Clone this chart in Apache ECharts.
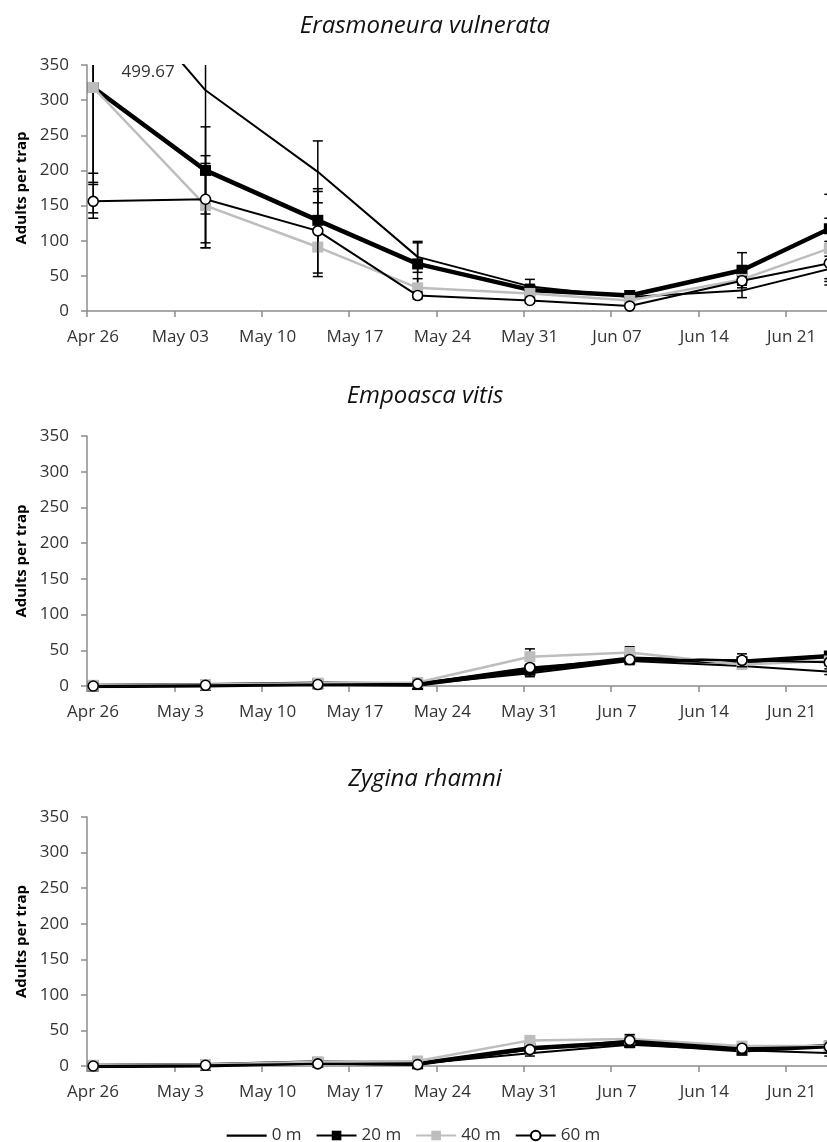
<!DOCTYPE html>
<html><head><meta charset="utf-8">
<script src="https://cdn.jsdelivr.net/npm/echarts@6/dist/echarts.min.js"></script>
<style>html,body{margin:0;padding:0;background:#fff;overflow:hidden}#c{width:827px;height:1142px}</style>
</head><body><div id="c"></div>
<script>
// Sampling dates: days after Apr 26 (points are placed at mid-day, as on the source date axis)
const sampleDays = [0, 9, 18, 26, 35, 43, 52, 59];
const tickLabelsTop = ['Apr 26','May 03','May 10','May 17','May 24','May 31','Jun 07','Jun 14','Jun 21'];
const tickLabelsLower = ['Apr 26','May 3','May 10','May 17','May 24','May 31','Jun 7','Jun 14','Jun 21'];
const depths = ['0 m', '20 m', '40 m', '60 m'];
const panelTitles = ['Erasmoneura vulnerata', 'Empoasca vitis', 'Zygina rhamni'];

// Erasmoneura vulnerata
const ev0 = [499.67, 314, 198, 77, 35, 20, 29, 60];
const ev20 = [318, 200, 129, 67, 30, 22, 58, 117];
const ev40 = [318, 150, 91, 33, 25, 15, 45, 89];
const ev60 = [156, 159, 114, 22, 15, 7, 43, 68];
const ev0Err = [360, 224, 44, 22, 10, 5, 10, 18];
const ev20Err = [122, 62, 41, 30, 8, 6, 25, 49];
const ev40Err = [135, 60, 42, 13, 5, 4, 8, 43];
const ev60Err = [24, 62, 60, 5, 4, 3, 6, 31];

// Empoasca vitis
const vi0 = [0, 1, 2, 2, 18, 35, 28, 20];
const vi20 = [0, 1, 3, 2, 22, 38, 34, 42];
const vi40 = [1, 2, 4, 5, 41, 47, 30, 35];
const vi60 = [0, 1, 2, 3, 26, 37, 36, 33];
const vi0Err = [0.5, 0.5, 1, 1, 5, 5, 3, 4];
const vi20Err = [0.5, 0.5, 1, 1, 6, 5, 4, 5];
const vi40Err = [1, 1, 1, 2, 11, 8, 4, 5];
const vi60Err = [0.5, 0.5, 1, 1, 4, 4, 9, 4];

// Zygina rhamni
const zr0 = [0, 1, 4, 3, 18, 30, 22, 18];
const zr20 = [0, 1, 5, 3, 25, 33, 22, 28];
const zr40 = [1, 2, 6, 7, 36, 38, 28, 28];
const zr60 = [0, 1, 3, 2, 23, 36, 25, 27];
const zr0Err = [0.5, 0.5, 1, 1, 4, 4, 3, 4];
const zr20Err = [0.5, 0.5, 1, 1, 5, 5, 4, 4];
const zr40Err = [1, 1, 1, 2, 4, 4, 4, 3];
const zr60Err = [0.5, 0.5, 1, 1, 4, 8, 4, 3];

const panels = [
  {vals: [ev0, ev20, ev40, ev60], errs: [ev0Err, ev20Err, ev40Err, ev60Err], labels: tickLabelsTop},
  {vals: [vi0, vi20, vi40, vi60], errs: [vi0Err, vi20Err, vi40Err, vi60Err], labels: tickLabelsLower},
  {vals: [zr0, zr20, zr40, zr60], errs: [zr0Err, zr20Err, zr40Err, zr60Err], labels: tickLabelsLower}
];

const FONT = 'Open Sans';
const TXT = '#333';
const AX = '#8c8c8c';
const grids = [
  {left: 87, top: 65, width: 786, height: 246, outerBoundsMode: 'none', containLabel: false},
  {left: 87, top: 436, width: 786, height: 250, outerBoundsMode: 'none', containLabel: false},
  {left: 87, top: 817, width: 786, height: 249, outerBoundsMode: 'none', containLabel: false}
];
const titleTops = [9, 379, 762];

const styles = [
  {color: '#000', width: 2, symbol: 'none', size: 0, fill: '#000'},
  {color: '#000', width: 4.5, symbol: 'rect', size: 11, fill: '#000'},
  {color: '#bdbdbd', width: 2.5, symbol: 'rect', size: 11, fill: '#bdbdbd'},
  {color: '#000', width: 2, symbol: 'circle', size: 10, fill: '#fff'}
];

const xAxes = [], yAxes = [], series = [], titles = [];
panels.forEach((p, pi) => {
  titles.push({text: panelTitles[pi], left: 420, textAlign: 'center', top: titleTops[pi],
    textStyle: {fontFamily: FONT, fontStyle: 'italic', fontWeight: 'normal', fontSize: 24, color: '#111'}});
  xAxes.push({type: 'value', gridIndex: pi, min: 0, max: 63, interval: 7,
    axisLine: {show: true, lineStyle: {color: AX, width: 1.5}},
    axisTick: {show: true, inside: false, length: 6, lineStyle: {color: AX, width: 1.5}},
    splitLine: {show: false},
    axisLabel: {show: true, color: TXT, fontFamily: FONT, fontSize: 17, margin: 18,
      padding: [0, 0, 0, 12], showMaxLabel: false, hideOverlap: false,
      formatter: v => (p.labels[Math.round(v / 7)] || '')}
  });
  yAxes.push({type: 'value', gridIndex: pi, min: 0, max: 350, interval: 50,
    name: 'Adults per trap', nameLocation: 'middle', nameGap: 57,
    nameTextStyle: {fontFamily: FONT, fontWeight: 'bold', fontSize: 15, color: '#000'},
    axisLine: {show: true, lineStyle: {color: AX, width: 1.5}},
    axisTick: {show: true, inside: false, length: 6, lineStyle: {color: AX, width: 1.5}},
    splitLine: {show: false},
    axisLabel: {color: TXT, fontFamily: FONT, fontSize: 17, margin: 18}
  });
  p.vals.forEach((vals, si) => {
    const st = styles[si];
    // error bars
    series.push({
      type: 'custom', xAxisIndex: pi, yAxisIndex: pi, clip: true, z: 2 + si * 2,
      silent: true,
      data: sampleDays.map((d, i) => [d + 0.5, vals[i], p.errs[si][i]]),
      renderItem: (params, api) => {
        const x = api.value(0), y = api.value(1), e = api.value(2);
        const top = api.coord([x, y + e]);
        const bot = api.coord([x, y - e]);
        const hw = 5;
        const ls = {stroke: '#000', lineWidth: 1.5};
        return {type: 'group', children: [
          {type: 'line', shape: {x1: top[0], y1: top[1], x2: bot[0], y2: bot[1]}, style: ls},
          {type: 'line', shape: {x1: top[0] - hw, y1: top[1], x2: top[0] + hw, y2: top[1]}, style: ls},
          {type: 'line', shape: {x1: bot[0] - hw, y1: bot[1], x2: bot[0] + hw, y2: bot[1]}, style: ls}
        ]};
      }
    });
    const s = {
      type: 'line', name: depths[si], xAxisIndex: pi, yAxisIndex: pi, clip: true, z: 3 + si * 2,
      data: sampleDays.map((d, i) => [d + 0.5, vals[i]]),
      symbol: st.symbol, symbolSize: st.size, showSymbol: st.symbol !== 'none',
      lineStyle: {color: st.color, width: st.width},
      itemStyle: {color: st.fill, borderColor: st.color, borderWidth: si === 3 ? 1.6 : 0},
      emphasis: {disabled: true}
    };
    if (pi === 0 && si === 0) {
      s.markPoint = {
        symbol: 'circle', symbolSize: 0, silent: true,
        data: [{coord: [4.9, 340], value: vals[0]}],
        label: {show: true, position: 'inside', formatter: '{c}', color: TXT, fontFamily: FONT, fontSize: 17}
      };
    }
    series.push(s);
  });
});

// legend: the 0 m entry is a plain line (no marker)
const legendData = depths.map((d, i) => i === 0
  ? {name: d, icon: 'path://M0,0h0.01v0.01h-0.01z M0,5h40v2.2h-40z M39.99,11.99h0.01v0.01h-0.01z'}
  : {name: d});

const chart = echarts.init(document.getElementById('c'), null, {renderer: 'canvas', width: 827, height: 1142});
chart.setOption({
  animation: false,
  backgroundColor: '#fff',
  title: titles,
  grid: grids,
  xAxis: xAxes,
  yAxis: yAxes,
  legend: {
    data: legendData, left: 'center', top: 1122, itemWidth: 40, itemHeight: 12, itemGap: 14,
    textStyle: {fontFamily: FONT, fontSize: 17, color: TXT}
  },
  series: series
});
</script></body></html>
